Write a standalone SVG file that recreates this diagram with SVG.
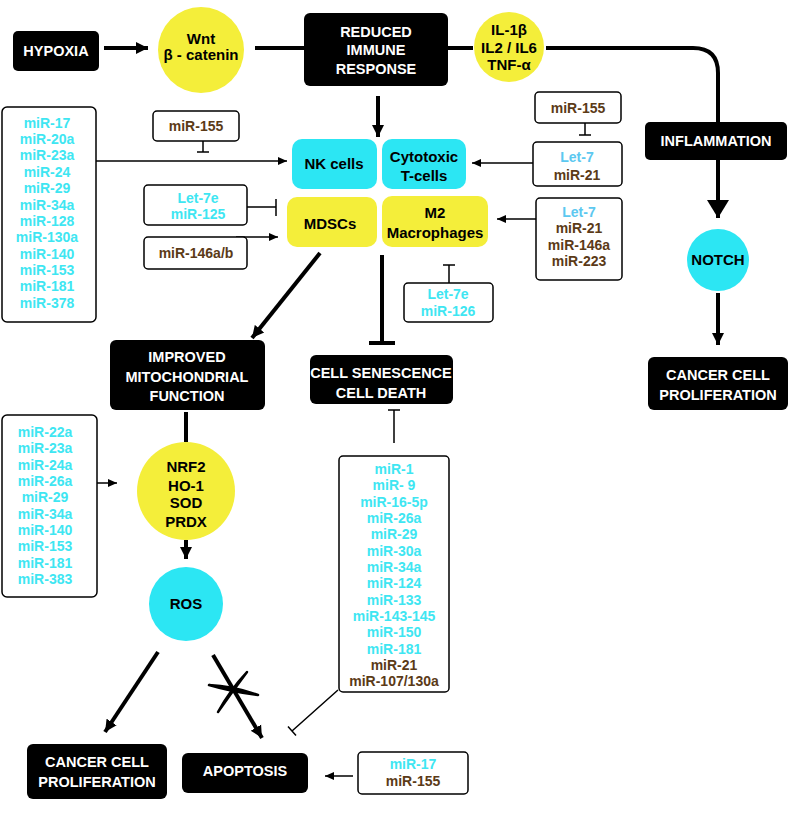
<svg xmlns="http://www.w3.org/2000/svg" width="789" height="817" viewBox="0 0 789 817">
<style>
text{font-family:"Liberation Sans",Arial,sans-serif;font-weight:bold;text-anchor:middle}
.bk{fill:#000}
.wt{fill:#fff;font-size:14.5px}
.dk{fill:#000;font-size:15px}
.cy{fill:#3ee6f2;font-size:14px}
.br{fill:#5b3a17;font-size:14px}
.lb{fill:#5cc8f0;font-size:14px}
.mb{fill:#fff;stroke:#000;stroke-width:1.5}
.cyf{fill:#2ce6f3}
.yf{fill:#f4ee3a}
.th{stroke:#000;stroke-width:4;fill:none}
.tn{stroke:#000;stroke-width:1.5;fill:none}
</style>
<defs>
<marker id="ah" markerUnits="userSpaceOnUse" markerWidth="14" markerHeight="14" refX="12" refY="7" orient="auto"><path d="M0,1 L12,7 L0,13 z" fill="#000"/></marker>
<marker id="ahb" markerUnits="userSpaceOnUse" markerWidth="20" markerHeight="24" refX="18" refY="12" orient="auto"><path d="M0,1 L18,12 L0,23 z" fill="#000"/></marker>
<marker id="ahs" markerUnits="userSpaceOnUse" markerWidth="10" markerHeight="10" refX="9" refY="5" orient="auto"><path d="M0,1 L9,5 L0,9 z" fill="#000"/></marker>
</defs>
<rect width="789" height="817" fill="#fff"/>

<g id="connectors">
<line class="th" x1="104" y1="48" x2="148" y2="48" stroke-width="3.5" marker-end="url(#ah)"/>
<line class="th" x1="255" y1="48" x2="304" y2="48"/>
<line class="th" x1="448" y1="48" x2="473" y2="48"/>
<path class="th" d="M546,48 H693 Q718,48 718,73 V122"/>
<line class="th" x1="718" y1="160" x2="718" y2="218" marker-end="url(#ahb)"/>
<line class="th" x1="718" y1="293" x2="718" y2="345" stroke-width="3.5" marker-end="url(#ah)"/>
<line class="th" x1="378" y1="96" x2="378" y2="137" marker-end="url(#ah)"/>
<line class="tn" x1="96" y1="161" x2="287" y2="161" marker-end="url(#ahs)"/>
<path class="tn" d="M203,141 V152 M197,152 H209"/>
<path class="tn" d="M247,207 H276 M276,199 V216"/>
<line class="tn" x1="236" y1="237" x2="278" y2="237" marker-end="url(#ahs)"/>
<path class="tn" d="M585,123 V135 M579,135 H591"/>
<line class="tn" x1="533" y1="163" x2="472" y2="163" marker-end="url(#ahs)"/>
<line class="tn" x1="536" y1="219" x2="497" y2="219" marker-end="url(#ahs)"/>
<path class="tn" d="M449,283 V265 M443,265 H455"/>
<line class="th" x1="320" y1="253" x2="252" y2="338" marker-end="url(#ah)"/>
<path class="th" d="M382,255 V343 M369,343 H395"/>
<path class="tn" d="M394,443 V410 M388,410 H400"/>
<path class="tn" d="M338,690 L292,731 M288,726.5 L296,735.5"/>
<line class="th" x1="186" y1="412" x2="186" y2="442"/>
<line class="tn" x1="97" y1="483" x2="117" y2="483" marker-end="url(#ahs)"/>
<line class="th" x1="186" y1="540" x2="186" y2="559" marker-end="url(#ah)"/>
<line class="th" x1="158" y1="652" x2="105" y2="732" marker-end="url(#ah)"/>
<line class="th" x1="213" y1="655" x2="262" y2="738" marker-end="url(#ah)"/>
<path d="M209,685 Q233,686 258,695 Q233,692 209,685 z" fill="#000" stroke="#000" stroke-width="2.5" stroke-linejoin="round"/>
<path d="M247,672 Q230,690 218,712 Q232,692 247,672 z" fill="#000" stroke="#000" stroke-width="2.5" stroke-linejoin="round"/>
<line class="tn" x1="353" y1="776" x2="325" y2="776" marker-end="url(#ahs)"/>
</g>

<g id="hypoxia"><rect x="13" y="31" width="86" height="40" rx="5" class="bk"/><text class="wt" x="56" y="56">HYPOXIA</text></g>
<g id="wnt"><circle cx="201" cy="50" r="43" class="yf"/><text class="dk" x="201" y="44">Wnt</text><text class="dk" x="201" y="60">β - catenin</text></g>
<g id="reduced-immune"><rect x="304" y="13" width="144" height="73" rx="6" class="bk"/><text class="wt" x="376" y="37" font-size="14px">REDUCED</text><text class="wt" x="376" y="55" font-size="14px">IMMUNE</text><text class="wt" x="376" y="74" font-size="14px">RESPONSE</text></g>
<g id="cytokines"><circle cx="509" cy="47" r="35" class="yf"/><text class="dk" x="509" y="35">IL-1β</text><text class="dk" x="509" y="53">IL2 / IL6</text><text class="dk" x="509" y="70">TNF-α</text></g>
<g id="inflammation"><rect x="645" y="122" width="142" height="38" rx="5" class="bk"/><text class="wt" x="716" y="146" font-size="15px">INFLAMMATION</text></g>
<g id="notch"><circle cx="718" cy="260" r="31" class="cyf"/><text class="dk" x="718" y="265" font-size="13px">NOTCH</text></g>
<g id="cancer-prolif-right"><rect x="648" y="357" width="140" height="53" rx="6" class="bk"/><text class="wt" x="718" y="380">CANCER CELL</text><text class="wt" x="718" y="400">PROLIFERATION</text></g>

<g id="left-mirs"><rect x="2" y="107" width="94" height="215" rx="5" class="mb"/>
<text class="cy" x="47" y="128">miR-17</text><text class="cy" x="47" y="144">miR-20a</text><text class="cy" x="47" y="160">miR-23a</text><text class="cy" x="47" y="177">miR-24</text><text class="cy" x="47" y="193">miR-29</text><text class="cy" x="47" y="210">miR-34a</text><text class="cy" x="47" y="226">miR-128</text><text class="cy" x="47" y="242">miR-130a</text><text class="cy" x="47" y="259">miR-140</text><text class="cy" x="47" y="275">miR-153</text><text class="cy" x="47" y="291">miR-181</text><text class="cy" x="47" y="308">miR-378</text></g>
<g id="mir155-left"><rect x="153" y="111" width="86" height="30" rx="4" class="mb"/><text class="br" x="196" y="131">miR-155</text></g>
<g id="let7e-mir125"><rect x="144" y="185" width="103" height="40" rx="4" class="mb"/><text class="cy" x="198" y="203">Let-7e</text><text class="cy" x="198" y="219">miR-125</text></g>
<g id="mir146ab"><rect x="144" y="237" width="103" height="32" rx="4" class="mb"/><text class="br" x="196" y="258">miR-146a/b</text></g>

<g id="nk"><rect x="292" y="139" width="85" height="50" rx="10" class="cyf"/><text class="dk" x="334" y="169">NK cells</text></g>
<g id="cytotoxic"><rect x="382" y="139" width="84" height="50" rx="10" class="cyf"/><text class="dk" x="424" y="162">Cytotoxic</text><text class="dk" x="424" y="181">T-cells</text></g>
<g id="mdscs"><rect x="287" y="197" width="90" height="50" rx="10" class="yf"/><text class="dk" x="330" y="229" font-size="16px">MDSCs</text></g>
<g id="m2"><rect x="382" y="196" width="106" height="51" rx="10" class="yf"/><text class="dk" x="435" y="218">M2</text><text class="dk" x="435" y="238">Macrophages</text></g>

<g id="mir155-right"><rect x="535" y="92" width="86" height="31" rx="4" class="mb"/><text class="br" x="578" y="113">miR-155</text></g>
<g id="let7-mir21"><rect x="533" y="142" width="89" height="44" rx="4" class="mb"/><text class="lb" x="577" y="162">Let-7</text><text class="br" x="577" y="180">miR-21</text></g>
<g id="let7-four"><rect x="536" y="198" width="86" height="82" rx="4" class="mb"/><text class="lb" x="579" y="217">Let-7</text><text class="br" x="579" y="233">miR-21</text><text class="br" x="579" y="250">miR-146a</text><text class="br" x="579" y="266">miR-223</text></g>
<g id="let7e-mir126"><rect x="404" y="283" width="89" height="39" rx="4" class="mb"/><text class="cy" x="448" y="299">Let-7e</text><text class="cy" x="448" y="316">miR-126</text></g>

<g id="mito"><rect x="110" y="340" width="155" height="70" rx="6" class="bk"/><text class="wt" x="187" y="362" font-size="15px">IMPROVED</text><text class="wt" x="187" y="382" font-size="15px">MITOCHONDRIAL</text><text class="wt" x="187" y="401" font-size="15px">FUNCTION</text></g>
<g id="senescence"><rect x="310" y="355" width="143" height="49" rx="6" class="bk"/><text class="wt" x="381" y="378" font-size="13px">CELL SENESCENCE</text><text class="wt" x="381" y="398" font-size="13px">CELL DEATH</text></g>

<g id="left-mirs2"><rect x="2" y="415" width="95" height="182" rx="5" class="mb"/>
<text class="cy" x="45" y="437">miR-22a</text><text class="cy" x="45" y="453">miR-23a</text><text class="cy" x="45" y="470">miR-24a</text><text class="cy" x="45" y="486">miR-26a</text><text class="cy" x="45" y="502">miR-29</text><text class="cy" x="45" y="519">miR-34a</text><text class="cy" x="45" y="535">miR-140</text><text class="cy" x="45" y="551">miR-153</text><text class="cy" x="45" y="568">miR-181</text><text class="cy" x="45" y="584">miR-383</text></g>
<g id="nrf2"><circle cx="186" cy="491" r="49" class="yf"/><text class="dk" x="186" y="472">NRF2</text><text class="dk" x="186" y="491">HO-1</text><text class="dk" x="186" y="508">SOD</text><text class="dk" x="186" y="527">PRDX</text></g>
<g id="ros"><circle cx="186" cy="604" r="37" class="cyf"/><text class="dk" x="186" y="609">ROS</text></g>

<g id="center-mirs"><rect x="339" y="456" width="110" height="236" rx="4" class="mb"/>
<text class="cy" x="394" y="474">miR-1</text><text class="cy" x="394" y="490">miR- 9</text><text class="cy" x="394" y="507">miR-16-5p</text><text class="cy" x="394" y="523">miR-26a</text><text class="cy" x="394" y="539">miR-29</text><text class="cy" x="394" y="556">miR-30a</text><text class="cy" x="394" y="572">miR-34a</text><text class="cy" x="394" y="588">miR-124</text><text class="cy" x="394" y="605">miR-133</text><text class="cy" x="394" y="621">miR-143-145</text><text class="cy" x="394" y="637">miR-150</text><text class="cy" x="394" y="654">miR-181</text><text class="br" x="394" y="670">miR-21</text><text class="br" x="394" y="686">miR-107/130a</text></g>

<g id="cancer-prolif-left"><rect x="27" y="744" width="140" height="55" rx="6" class="bk"/><text class="wt" x="97" y="767">CANCER CELL</text><text class="wt" x="97" y="787">PROLIFERATION</text></g>
<g id="apoptosis"><rect x="182" y="753" width="126" height="40" rx="6" class="bk"/><text class="wt" x="245" y="776">APOPTOSIS</text></g>
<g id="mir17-mir155"><rect x="358" y="752" width="110" height="42" rx="4" class="mb"/><text class="cy" x="413" y="769">miR-17</text><text class="br" x="413" y="786">miR-155</text></g>
</svg>
